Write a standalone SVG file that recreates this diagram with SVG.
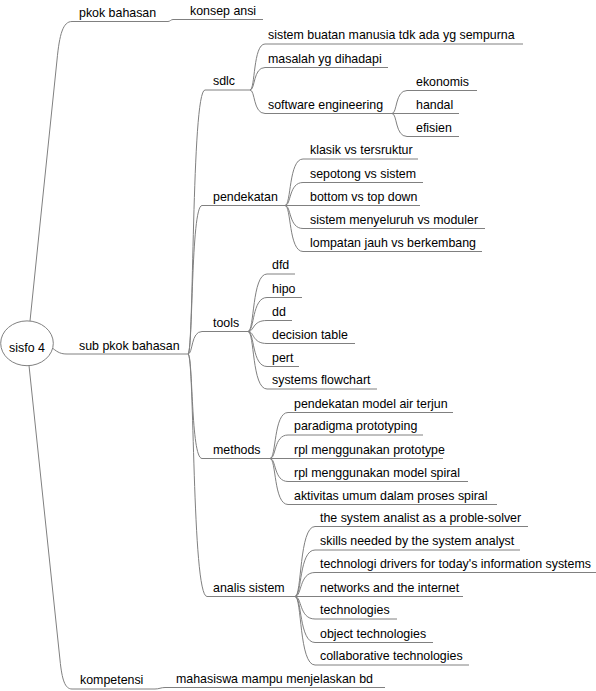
<svg xmlns="http://www.w3.org/2000/svg" width="596" height="691" viewBox="0 0 596 691">
<style>
text{font-family:"Liberation Sans",Arial,sans-serif;font-size:12.4px;fill:#000}
.l{stroke:#808080;stroke-width:1;fill:none}
</style>
<rect width="596" height="691" fill="#fff"/>
<g id="connectors" class="l">
<path d="M30,321 L57,60 C59.5,34 63,21.5 72,21.5"/>
<path d="M53,348.5 C58,352.5 61,354 67,354"/>
<path d="M29,365.5 L60,660 C62,680 65,689 72,689"/>
<path d="M168,21.5 C170,21.5 171,19.5 173,19.5"/>
<path d="M155,689 C159,689 161,687.5 165,687.5"/>
<path d="M188,354 C194,354 191.4,90 205,90"/>
<path d="M188,354 C193,354 190.8,205.5 202,205.5"/>
<path d="M188,354 C193,354 190.8,331.5 202,331.5"/>
<path d="M188,354 C193,354 190.8,458.5 202,458.5"/>
<path d="M188,354 C194.6,354 191.8,596.5 207,596.5"/>
<path d="M250,90 C255.3,90 253,44 265,44"/>
<path d="M250,90 C255.3,90 253,67.5 265,67.5"/>
<path d="M250,90 C255.3,90 253,113.5 265,113.5"/>
<path d="M392,113.5 C397.3,113.5 395,90.5 407,90.5"/>
<path d="M392,113.5 L407,113.5"/>
<path d="M392,113.5 C397.3,113.5 395,136.5 407,136.5"/>
<path d="M285,205.5 C291.3,205.5 288.6,159 303,159"/>
<path d="M285,205.5 C291.3,205.5 288.6,182.5 303,182.5"/>
<path d="M285,205.5 L303,205.5"/>
<path d="M285,205.5 C291.3,205.5 288.6,228.5 303,228.5"/>
<path d="M285,205.5 C291.3,205.5 288.6,251.5 303,251.5"/>
<path d="M248,331.5 C254.6,331.5 251.8,274 267,274"/>
<path d="M248,331.5 C254.6,331.5 251.8,297.5 267,297.5"/>
<path d="M248,331.5 C254.6,331.5 251.8,320.5 267,320.5"/>
<path d="M248,331.5 C254.6,331.5 251.8,343.5 267,343.5"/>
<path d="M248,331.5 C254.6,331.5 251.8,366.5 267,366.5"/>
<path d="M248,331.5 C254.6,331.5 251.8,389 267,389"/>
<path d="M270,458.5 C276.3,458.5 273.6,412.5 288,412.5"/>
<path d="M270,458.5 C276.3,458.5 273.6,435 288,435"/>
<path d="M270,458.5 L288,458.5"/>
<path d="M270,458.5 C276.3,458.5 273.6,481.5 288,481.5"/>
<path d="M270,458.5 C276.3,458.5 273.6,504.5 288,504.5"/>
<path d="M295,596.5 C302,596.5 299,526.5 315,526.5"/>
<path d="M295,596.5 C302,596.5 299,550 315,550"/>
<path d="M295,596.5 C302,596.5 299,572.5 315,572.5"/>
<path d="M295,596.5 L315,596.5"/>
<path d="M295,596.5 C302,596.5 299,619 315,619"/>
<path d="M295,596.5 C302,596.5 299,642.5 315,642.5"/>
<path d="M295,596.5 C302,596.5 299,665 315,665"/>
</g>
<g id="root"><ellipse cx="27" cy="343.3" rx="26.3" ry="22.4" fill="#fff" stroke="#808080"/><text x="27" y="352" text-anchor="middle">sisfo 4</text></g>
<g id="n-pkok"><path class="l" d="M72,21.5H168"/><text x="79" y="17">pkok bahasan</text></g>
<g id="n-konsep"><path class="l" d="M173,19.5H263"/><text x="190" y="15">konsep ansi</text></g>
<g id="n-sub"><path class="l" d="M67,354H188"/><text x="79" y="349.5">sub pkok bahasan</text></g>
<g id="n-kompetensi"><path class="l" d="M72,689H155"/><text x="80" y="684">kompetensi</text></g>
<g id="n-mahasiswa"><path class="l" d="M165,687.5H385"/><text x="176" y="682.5">mahasiswa mampu menjelaskan bd</text></g>
<g id="n-sdlc"><path class="l" d="M205,90H250"/><text x="213" y="85">sdlc</text></g>
<g id="n-pendekatan"><path class="l" d="M202,205.5H285"/><text x="213" y="200.5">pendekatan</text></g>
<g id="n-tools"><path class="l" d="M202,331.5H248"/><text x="213" y="326.5">tools</text></g>
<g id="n-methods"><path class="l" d="M202,458.5H270"/><text x="213" y="453.5">methods</text></g>
<g id="n-analis"><path class="l" d="M207,596.5H295"/><text x="213" y="591.5">analis sistem</text></g>
<g id="n-sistem-buatan"><path class="l" d="M265,44H523"/><text x="268" y="39">sistem buatan manusia tdk ada yg sempurna</text></g>
<g id="n-masalah"><path class="l" d="M265,67.5H388"/><text x="268" y="62.5">masalah yg dihadapi</text></g>
<g id="n-software"><path class="l" d="M265,113.5H392"/><text x="268" y="108.5">software engineering</text></g>
<g id="n-ekonomis"><path class="l" d="M407,90.5H477"/><text x="416" y="85.5">ekonomis</text></g>
<g id="n-handal"><path class="l" d="M407,113.5H459"/><text x="416" y="108.5">handal</text></g>
<g id="n-efisien"><path class="l" d="M407,136.5H459"/><text x="416" y="131.5">efisien</text></g>
<g id="n-klasik"><path class="l" d="M303,159H418"/><text x="310" y="154">klasik vs tersruktur</text></g>
<g id="n-sepotong"><path class="l" d="M303,182.5H423"/><text x="310" y="177.5">sepotong vs sistem</text></g>
<g id="n-bottom"><path class="l" d="M303,205.5H420"/><text x="310" y="200.5">bottom vs top down</text></g>
<g id="n-menyeluruh"><path class="l" d="M303,228.5H485"/><text x="310" y="223.5">sistem menyeluruh vs moduler</text></g>
<g id="n-lompatan"><path class="l" d="M303,251.5H482"/><text x="310" y="246.5">lompatan jauh vs berkembang</text></g>
<g id="n-dfd"><path class="l" d="M267,274H295"/><text x="272" y="269">dfd</text></g>
<g id="n-hipo"><path class="l" d="M267,297.5H302"/><text x="272" y="292.5">hipo</text></g>
<g id="n-dd"><path class="l" d="M267,320.5H292"/><text x="272" y="315.5">dd</text></g>
<g id="n-decision"><path class="l" d="M267,343.5H355"/><text x="272" y="338.5">decision table</text></g>
<g id="n-pert"><path class="l" d="M267,366.5H299"/><text x="272" y="361.5">pert</text></g>
<g id="n-flowchart"><path class="l" d="M267,389H377"/><text x="272" y="384">systems flowchart</text></g>
<g id="n-air-terjun"><path class="l" d="M288,412.5H453"/><text x="294" y="407.5">pendekatan model air terjun</text></g>
<g id="n-paradigma"><path class="l" d="M288,435H423"/><text x="294" y="430">paradigma prototyping</text></g>
<g id="n-rpl-proto"><path class="l" d="M288,458.5H443"/><text x="294" y="453.5">rpl menggunakan prototype</text></g>
<g id="n-rpl-spiral"><path class="l" d="M288,481.5H468"/><text x="294" y="476.5">rpl menggunakan model spiral</text></g>
<g id="n-aktivitas"><path class="l" d="M288,504.5H497"/><text x="294" y="499.5">aktivitas umum dalam proses spiral</text></g>
<g id="n-analist"><path class="l" d="M315,526.5H528"/><text x="320" y="521.5">the system analist as a proble-solver</text></g>
<g id="n-skills"><path class="l" d="M315,550H520"/><text x="320" y="545">skills needed by the system analyst</text></g>
<g id="n-drivers"><path class="l" d="M315,572.5H596"/><text x="320" y="567.5">technologi drivers for today's information systems</text></g>
<g id="n-networks"><path class="l" d="M315,596.5H463"/><text x="320" y="591.5">networks and the internet</text></g>
<g id="n-technologies"><path class="l" d="M315,619H397"/><text x="320" y="614">technologies</text></g>
<g id="n-object"><path class="l" d="M315,642.5H433"/><text x="320" y="637.5">object technologies</text></g>
<g id="n-collab"><path class="l" d="M315,665H469"/><text x="320" y="660">collaborative technologies</text></g>
</svg>
